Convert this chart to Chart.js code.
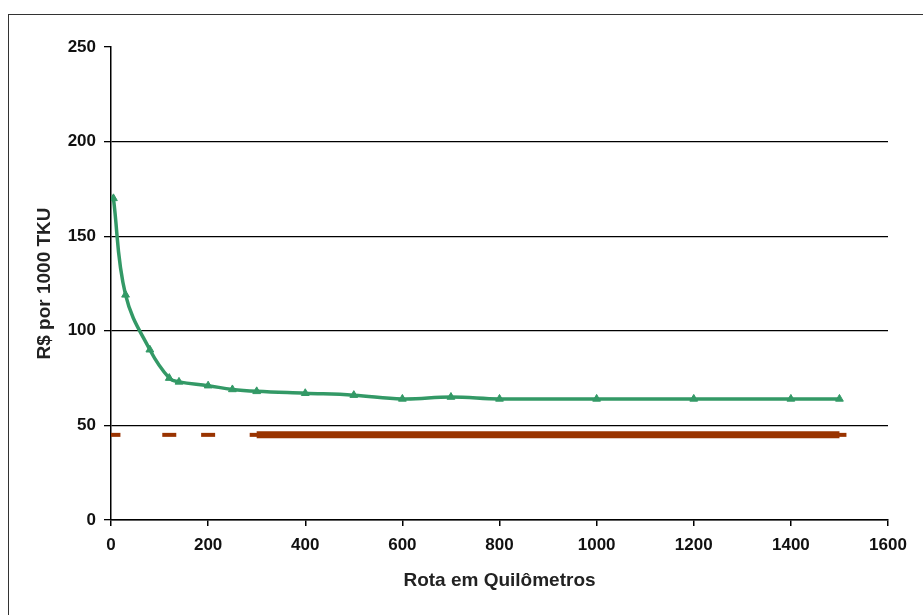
<!DOCTYPE html>
<html>
<head>
<meta charset="utf-8">
<script src="https://cdn.jsdelivr.net/npm/chart.js@4/dist/chart.umd.min.js"></script>
<style>
  html, body { margin: 0; padding: 0; background: #fff; overflow: hidden; }
  .wrap { position: relative; width: 923px; height: 615px; }
  .frame {
    position: absolute; left: 8px; top: 14px; width: 1000px; height: 1000px;
    border: 1.5px solid #333; box-sizing: border-box;
  }
  canvas { position: absolute; left: 0; top: 0; }
</style>
</head>
<body>
<div class="wrap">
  <div class="frame"></div>
  <canvas id="chart" width="923" height="615"></canvas>
</div>
<script>
// route length (km) and cost (R$ per 1000 TKU)
const routeKm = [5, 30, 80, 120, 140, 200, 250, 300, 400, 500, 600, 700, 800, 1000, 1200, 1400, 1500];
const costValues = [170, 119, 90, 75, 73, 71, 69, 68, 67, 66, 64, 65, 64, 64, 64, 64, 64];

// reference level
const refKm = [5, 120, 200, 300, 1500];
const refValue = 45;
const refSolidFrom = 300;

const xTicks = [0, 200, 400, 600, 800, 1000, 1200, 1400, 1600];
const yTicks = [0, 50, 100, 150, 200, 250];

const GREEN = '#339966';
const RED = '#993300';

const costPoints = routeKm.map((x, i) => ({ x, y: costValues[i] }));
const refPoints = refKm.map(x => ({ x, y: refValue }));
const refSolid = refKm.filter(x => x >= refSolidFrom).map(x => ({ x, y: refValue }));

Chart.defaults.font.family = '"Liberation Sans", Arial, sans-serif';
Chart.defaults.color = '#000';

new Chart(document.getElementById('chart'), {
  type: 'scatter',
  data: {
    datasets: [
      {
        label: 'ref-solid',
        data: refSolid,
        showLine: true,
        borderColor: RED,
        borderWidth: 7,
        pointRadius: 0,
        borderCapStyle: 'butt',
      },
      {
        label: 'ref',
        data: refPoints,
        showLine: false,
        pointStyle: 'line',
        pointRadius: 7,
        borderColor: RED,
        backgroundColor: RED,
        pointBorderWidth: 4,
      },
      {
        label: 'custo',
        data: costPoints,
        showLine: true,
        borderColor: GREEN,
        backgroundColor: GREEN,
        borderWidth: 3.5,
        tension: 0.4,
        pointStyle: 'triangle',
        pointRadius: 4.5,
        pointBorderWidth: 1,
      },
    ],
  },
  options: {
    responsive: false,
    animation: false,
    layout: {
      padding: { left: 0, top: 47, right: 35, bottom: 0 },
    },
    plugins: {
      legend: { display: false },
      tooltip: { enabled: false },
    },
    scales: {
      x: {
        type: 'linear',
        min: 0,
        max: 1600,
        afterBuildTicks: scale => {
          scale.ticks = xTicks.map(value => ({ value }));
        },
        afterFit: scale => {
          scale.height = 95;
        },
        grid: {
          drawOnChartArea: false,
          tickColor: '#000',
          tickLength: 6,
          lineWidth: 1.5,
        },
        border: { color: '#000', width: 1.5 },
        ticks: {
          font: { size: 17, weight: 'bold' },
          color: '#111',
          padding: 9,
          maxRotation: 0,
          callback: v => String(v),
        },
        title: {
          display: true,
          text: 'Rota em Quilômetros',
          font: { size: 19, weight: 'bold' },
          color: '#222',
          padding: { bottom: 23 },
        },
      },
      y: {
        type: 'linear',
        min: 0,
        max: 250,
        afterBuildTicks: scale => {
          scale.ticks = yTicks.map(value => ({ value }));
        },
        afterFit: scale => {
          scale.width = 111;
        },
        grid: {
          color: ctx => (ctx.tick && ctx.tick.value === 250 ? 'rgba(0,0,0,0)' : '#000'),
          tickColor: '#000',
          tickLength: 7,
          lineWidth: 1.3,
        },
        border: { color: '#000', width: 1.5 },
        ticks: {
          font: { size: 17, weight: 'bold' },
          color: '#111',
          padding: 8,
          callback: v => String(v),
        },
        title: {
          display: true,
          text: 'R$ por 1000 TKU',
          font: { size: 19, weight: 'bold' },
          color: '#222',
          padding: { top: 33 },
        },
      },
    },
  },
});
</script>
</body>
</html>
